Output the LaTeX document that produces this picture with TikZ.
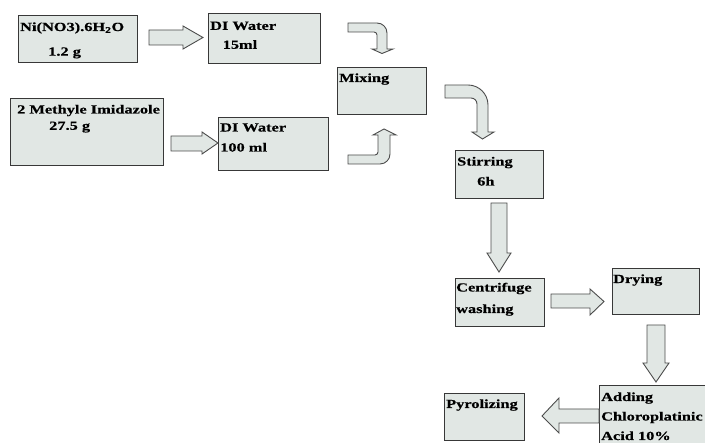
\documentclass[tikz,border=0pt]{standalone}
\usepackage{fontspec}
\setmainfont{Liberation Serif}[FakeStretch=1.32,FakeBold=0.4]
\begin{document}
\begin{tikzpicture}[x=1pt,y=-1pt,
  box/.style={draw=black!78,line width=1.2pt,fill=boxfill,rectangle,inner sep=0pt,anchor=north west},
  txt/.style={anchor=base west,inner sep=0pt,font=\bfseries\fontsize{12.4}{14}\selectfont,text=black},
  barrow/.style={draw=black!70,line width=0.9pt,fill=boxfill,line join=miter}]
\definecolor{boxfill}{HTML}{E1E7E4}
\useasboundingbox (0,0) rectangle (705,443);
\clip (0,0) rectangle (705,443);
% boxes
\node[box,minimum width=119pt,minimum height=47pt] (ni) at (18,15) {};
\node[box,minimum width=112pt,minimum height=50pt] (dia) at (208,13) {};
\node[box,minimum width=153pt,minimum height=67pt] (meth) at (10,98) {};
\node[box,minimum width=110pt,minimum height=53pt] (dib) at (218,117) {};
\node[box,minimum width=89pt,minimum height=47pt] (mix) at (337,67) {};
\node[box,minimum width=88pt,minimum height=48pt] (stir) at (455,150) {};
\node[box,minimum width=89pt,minimum height=48pt] (cent) at (455,278) {};
\node[box,minimum width=87pt,minimum height=46pt] (dry) at (612,268) {};
\node[box,minimum width=115pt,minimum height=70pt] (add) at (599,385) {};
\node[box,minimum width=80pt,minimum height=47pt] (pyro) at (444,393) {};
% texts
\node[txt] (niA) at (20,31) {Ni(NO3).6H\textsubscript{2}O};
\node[txt] (niB) at (48,55.6) {1.2 g};
\node[txt] (diaA) at (210,29.8) {DI Water};
\node[txt] (diaB) at (222.5,48.8) {15ml};
\node[txt] (methA) at (17,113.5) {2 Methyle Imidazole};
\node[txt] (methB) at (49,129.8) {27.5 g};
\node[txt] (dibA) at (220,131.5) {DI Water};
\node[txt] (dibB) at (220,151.5) {100 ml};
\node[txt] (mixA) at (339,82) {Mixing};
\node[txt] (stirA) at (457,165.5) {Stirring};
\node[txt] (stirB) at (477,185.5) {6h};
\node[txt] (centA) at (456,291.5) {Centrifuge};
\node[txt] (centB) at (456,313) {washing};
\node[txt] (dryA) at (613,283) {Drying};
\node[txt] (addA) at (601,401) {Adding};
\node[txt] (addB) at (601,420.5) {Chloroplatinic};
\node[txt] (addC) at (601,440) {Acid 10\%};
\node[txt] (pyroA) at (446,408) {Pyrolizing};
% straight block arrows
\draw[barrow] (149,30) -- (183,30) -- (183,26) -- (203,37.5) -- (183,49) -- (183,45) -- (149,45) -- cycle;
\draw[barrow] (171,136) -- (202,136) -- (202,132) -- (218,143) -- (202,154) -- (202,151) -- (171,151) -- cycle;
\draw[barrow] (491,203) -- (507,203) -- (507,253) -- (511,253) -- (499,272) -- (487,253) -- (491,253) -- cycle;
\draw[barrow] (551,294) -- (590,294) -- (590,289) -- (604,301.5) -- (590,315) -- (590,308) -- (551,308) -- cycle;
\draw[barrow] (647,325) -- (665,325) -- (665,363) -- (669,363) -- (656,382) -- (643,363) -- (647,363) -- cycle;
\draw[barrow] (599,409) -- (559,409) -- (559,398) -- (542,416) -- (559,433) -- (559,423) -- (599,423) -- cycle;
% curved block arrows
\draw[barrow] (348,23) -- (377,23) arc[start angle=-90,end angle=0,radius=10] -- (387,49) -- (393,49) -- (382,53.5) -- (372,49) -- (377,49) -- (377,35) arc[start angle=0,end angle=-90,radius=3] -- (348,32) -- cycle;
\draw[barrow] (348,164) -- (380,164) arc[start angle=90,end angle=0,radius=10] -- (390,135) -- (396,135) -- (384,129) -- (373,135) -- (378,135) -- (378,152) arc[start angle=0,end angle=90,radius=3] -- (348,155) -- cycle;
\draw[barrow] (445,85) -- (468,85) arc[start angle=-90,end angle=0,radius=20] -- (488,132) -- (494,132) -- (482.5,139) -- (472,132) -- (477,132) -- (477,104) arc[start angle=0,end angle=-90,radius=6] -- (445,98) -- cycle;
\end{tikzpicture}
\end{document}
